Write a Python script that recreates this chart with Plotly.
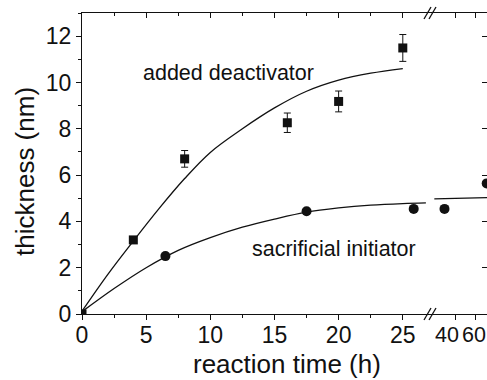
import plotly.graph_objects as go

# ---- data ----
deact_t = [0, 4, 8, 16, 20, 25]
deact_thk = [0, 3.2, 6.7, 8.26, 9.18, 11.49]
deact_err = [0, 0, 0.36, 0.42, 0.45, 0.58]

sacr_t = [6.5, 17.5, 25.85]
sacr_thk = [2.5, 4.44, 4.54]
sacr_t_late = [29.5, 71.7]
sacr_thk_late = [4.54, 5.64]

fit_deact_t = [0, 2, 4, 6, 8, 10, 12.5, 15, 17.5, 20, 22.5, 25]
fit_deact_thk = [0.12, 1.7, 3.15, 4.55, 5.85, 6.98, 8.0, 8.9, 9.62, 10.1, 10.4, 10.6]

fit_sacr_t = [0, 2.5, 5, 7.5, 10, 12.5, 15, 17.5, 20, 22.5, 25, 26.8]
fit_sacr_thk = [0.1, 1.1, 2.0, 2.75, 3.3, 3.75, 4.1, 4.4, 4.58, 4.7, 4.77, 4.8]

fit_sacr_late_t = [19.3, 72]
fit_sacr_late_thk = [4.97, 5.03]

x_ticks_a = [0, 5, 10, 15, 20, 25]
x_ticks_b = [40, 60]
x_labels_b = ["40", "60"]
y_ticks = [0, 2, 4, 6, 8, 10, 12]

# ---- geometry (pixels) ----
W, H = 487, 380
L, R, T, B = 82, 0, 13, 66
pw = W - L - R
ph = H - T - B
split = (430 - L) / pw

FONT = "Arial, Liberation Sans, Helvetica, sans-serif"
INK = "#111111"

fig = go.Figure()

# fit curves
fig.add_trace(go.Scatter(x=fit_deact_t, y=fit_deact_thk, mode="lines",
                         line=dict(color=INK, width=1.3, shape="spline", smoothing=1.0),
                         xaxis="x", yaxis="y", showlegend=False))
fig.add_trace(go.Scatter(x=fit_sacr_t, y=fit_sacr_thk, mode="lines",
                         line=dict(color=INK, width=1.3, shape="spline", smoothing=1.0),
                         xaxis="x", yaxis="y", showlegend=False))
fig.add_trace(go.Scatter(x=fit_sacr_late_t, y=fit_sacr_late_thk, mode="lines",
                         line=dict(color=INK, width=1.3),
                         xaxis="x2", yaxis="y", showlegend=False))

# data points
fig.add_trace(go.Scatter(x=deact_t, y=deact_thk, mode="markers",
                         marker=dict(symbol="square", size=9, color=INK),
                         error_y=dict(type="data", array=deact_err, visible=True,
                                      color=INK, thickness=1, width=3.5),
                         xaxis="x", yaxis="y", showlegend=False))
fig.add_trace(go.Scatter(x=sacr_t, y=sacr_thk, mode="markers",
                         marker=dict(symbol="circle", size=10, color=INK),
                         xaxis="x", yaxis="y", showlegend=False))
fig.add_trace(go.Scatter(x=sacr_t_late, y=sacr_thk_late, mode="markers",
                         marker=dict(symbol="circle", size=10, color=INK),
                         xaxis="x2", yaxis="y", showlegend=False))

# placeholder traces so the mirror axes (top, right) exist
fig.add_trace(go.Scatter(x=[None], y=[None], xaxis="x3", yaxis="y", showlegend=False))
fig.add_trace(go.Scatter(x=[None], y=[None], xaxis="x4", yaxis="y", showlegend=False))
fig.add_trace(go.Scatter(x=[None], y=[None], xaxis="x", yaxis="y2", showlegend=False))

axis_common = dict(showgrid=False, zeroline=False, linecolor=INK, linewidth=1.2,
                   tickcolor=INK, tickwidth=1.2,
                   tickfont=dict(family=FONT, size=23, color=INK))

fig.update_layout(
    width=W, height=H,
    margin=dict(l=L, r=R, t=T, b=B),
    paper_bgcolor="white", plot_bgcolor="white",
    xaxis=dict(domain=[0, split], range=[0, 27.12], tickmode="array",
               tickvals=x_ticks_a, ticks="outside", ticklen=5, showline=True,
               ticklabelstandoff=-5, ticklabeloverflow="allow", tickangle=0,
               minor=dict(dtick=2.5, ticks="outside", ticklen=3, tickcolor=INK, tickwidth=1.2),
               anchor="y", **axis_common),
    xaxis2=dict(domain=[split, 1], range=[15, 72], tickmode="array",
                tickvals=x_ticks_b, ticks="outside", ticklen=5, showline=True,
                showticklabels=False, anchor="y", **axis_common),
    xaxis3=dict(overlaying="x", side="top", range=[0, 27.12], tickmode="array",
                tickvals=x_ticks_a, ticks="inside", ticklen=5, showline=True,
                showticklabels=False,
                minor=dict(dtick=2.5, ticks="inside", ticklen=3, tickcolor=INK, tickwidth=1.2),
                anchor="y", **axis_common),
    xaxis4=dict(overlaying="x2", side="top", range=[15, 72], tickmode="array",
                tickvals=x_ticks_b, ticks="inside", ticklen=5, showline=True,
                showticklabels=False, anchor="y", **axis_common),
    yaxis=dict(range=[0, 13], tickmode="array", tickvals=y_ticks,
               ticks="outside", ticklen=5, showline=True, anchor="x",
               minor=dict(dtick=1, ticks="outside", ticklen=3, tickcolor=INK, tickwidth=1.2),
               **axis_common),
    yaxis2=dict(overlaying="y", side="right", anchor="free", position=1.0,
                range=[0, 13], tickmode="array", tickvals=y_ticks,
                ticks="inside", ticklen=5,
                showline=False, showticklabels=False, **axis_common),
)

# tick labels of the late segment (placed like the reference, tightly packed)
for val, lab, shift in zip(x_ticks_b, x_labels_b, (-8, -1.5)):
    fig.add_annotation(text=lab, xref="x2", yref="paper", x=val,
                       y=(H - B - 335) / ph, xshift=shift, showarrow=False,
                       xanchor="center", yanchor="middle",
                       font=dict(family=FONT, size=21.5, color=INK))

# axis titles and labels
fig.add_annotation(text="reaction time (h)", xref="paper", yref="paper",
                   x=(287 - L) / pw, y=(H - B - 364) / ph, showarrow=False,
                   xanchor="center", yanchor="middle",
                   font=dict(family=FONT, size=26, color=INK))
fig.add_annotation(text="thickness (nm)", xref="paper", yref="paper",
                   x=(25 - L) / pw, y=(H - B - 171) / ph, showarrow=False,
                   textangle=-90, xanchor="center", yanchor="middle",
                   font=dict(family=FONT, size=26, color=INK))
fig.add_annotation(text="added deactivator", xref="x", yref="y",
                   x=11.38, y=10.39, showarrow=False,
                   xanchor="center", yanchor="middle",
                   font=dict(family=FONT, size=21.5, color=INK))
fig.add_annotation(text="sacrificial initiator", xref="x", yref="y",
                   x=19.6, y=2.79, showarrow=False,
                   xanchor="center", yanchor="middle",
                   font=dict(family=FONT, size=21.5, color=INK))

# axis-break marks
def px2paper(px, py):
    return (px - L) / pw, (H - B - py) / ph

for base in (314, 13):
    for dx in (0, 5):
        x0, y0 = px2paper(424 + dx, base + 6)
        x1, y1 = px2paper(431 + dx, base - 6)
        fig.add_shape(type="line", xref="paper", yref="paper",
                      x0=x0, y0=y0, x1=x1, y1=y1,
                      line=dict(color=INK, width=1.3))

fig.write_html("out.html")
